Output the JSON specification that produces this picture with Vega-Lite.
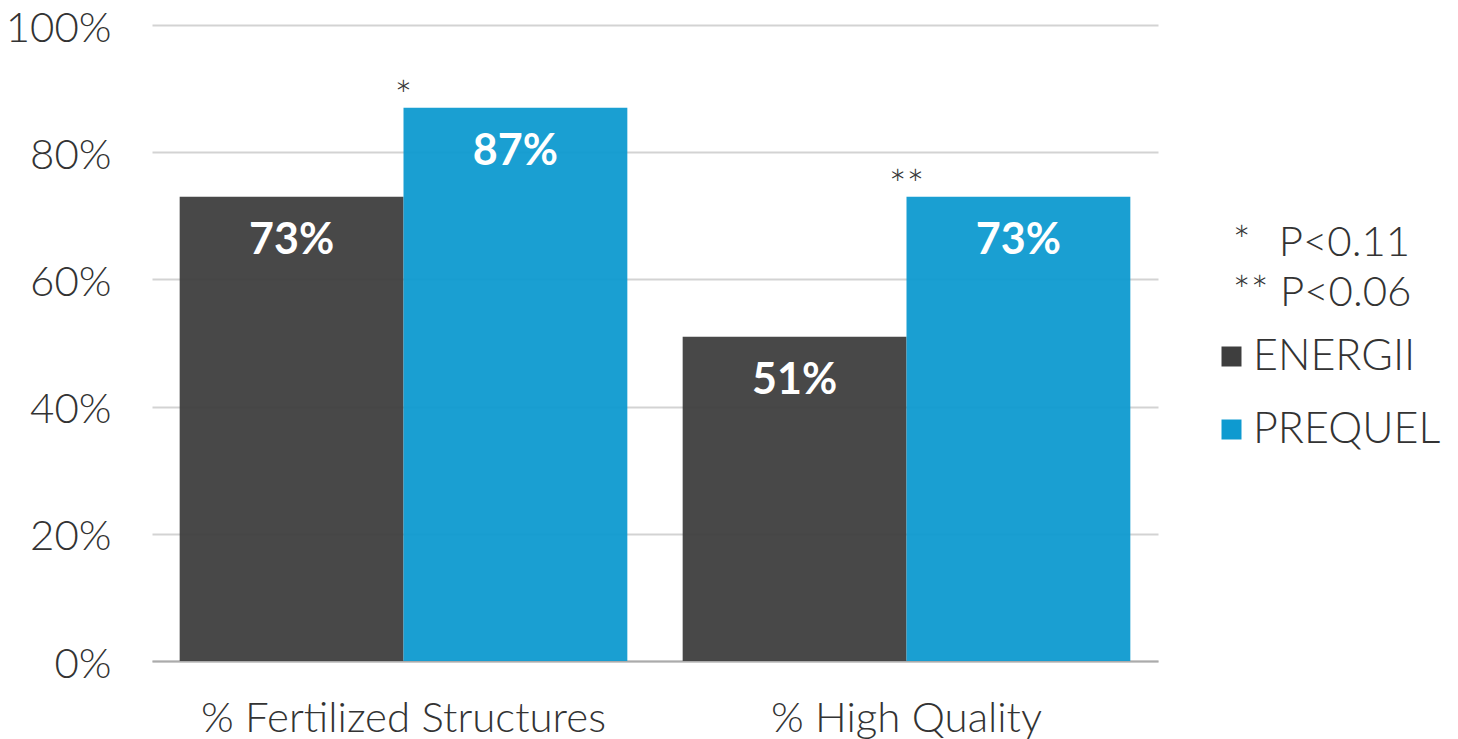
{
  "$schema": "https://vega.github.io/schema/vega-lite/v6.json",
  "width": 1006,
  "height": 636,
  "autosize": {"type": "none"},
  "padding": {"left": 152, "top": 25, "right": 300, "bottom": 78},
  "background": "white",
  "config": {
    "view": {"stroke": null},
    "font": "Lato"
  },
  "data": {
    "values": [
      {"category": "% Fertilized Structures", "series": "ENERGII", "value": 0.73, "sig": ""},
      {"category": "% Fertilized Structures", "series": "PREQUEL", "value": 0.87, "sig": "*"},
      {"category": "% High Quality", "series": "ENERGII", "value": 0.51, "sig": ""},
      {"category": "% High Quality", "series": "PREQUEL", "value": 0.73, "sig": "**"}
    ]
  },
  "encoding": {
    "x": {
      "field": "category",
      "type": "nominal",
      "sort": null,
      "scale": {"paddingInner": 0.11, "paddingOuter": 0.055},
      "axis": {
        "title": null,
        "labelAngle": 0,
        "ticks": false,
        "domainColor": "#ababab",
        "domainWidth": 2,
        "labelFont": "Lato",
        "labelFontWeight": 300,
        "labelFontSize": 42,
        "labelColor": "#333333",
        "labelPadding": 37,
        "labelBaseline": "top",
        "labelLimit": 0
      }
    },
    "y": {
      "field": "value",
      "type": "quantitative",
      "scale": {"domain": [0, 1]},
      "axis": {
        "title": null,
        "format": ".0%",
        "values": [0, 0.2, 0.4, 0.6, 0.8, 1],
        "ticks": false,
        "domain": false,
        "gridColor": "#d3d3d3",
        "gridWidth": 2,
        "labelFont": "Lato",
        "labelFontWeight": 300,
        "labelFontSize": 42,
        "labelColor": "#333333",
        "labelPadding": 41,
        "labelOffset": 3
      }
    }
  },
  "layer": [
    {
      "mark": {"type": "bar", "opacity": 0.95},
      "encoding": {
        "xOffset": {"field": "series", "type": "nominal", "scale": {"paddingInner": 0, "paddingOuter": 0}},
        "color": {
          "field": "series",
          "type": "nominal",
          "scale": {"domain": ["ENERGII", "PREQUEL"], "range": ["#3e3e3e", "#0e9ad0"]},
          "legend": {
            "orient": "none",
            "legendX": 1058,
            "legendY": 198,
            "padding": 0,
            "title": ["\u200b\u00a0\u00a0*\u00a0\u200a\u200a P<0.11", "\u200b\u00a0\u00a0**\u00a0P<0.06"],
            "titleFont": "Lato",
            "titleFontWeight": 300,
            "titleFontSize": 42,
            "titleLineHeight": 50,
            "titleColor": "#333333",
            "titlePadding": 20,
            "titleLimit": 0,
            "symbolType": "square",
            "symbolSize": 400,
            "symbolStrokeWidth": 0,
            "symbolOpacity": 1,
            "labelFont": "Lato",
            "labelFontWeight": 300,
            "labelFontSize": 43,
            "labelColor": "#333333",
            "labelOffset": 0,
            "labelLimit": 0,
            "rowPadding": 29
          }
        }
      }
    },
    {
      "mark": {"type": "text", "color": "white", "fontSize": 43, "fontWeight": "bold", "font": "Lato", "baseline": "middle", "dy": 44},
      "encoding": {
        "xOffset": {"field": "series", "type": "nominal"},
        "text": {"field": "value", "type": "quantitative", "format": ".0%"}
      }
    },
    {
      "mark": {"type": "text", "color": "#333333", "fontSize": 42, "fontWeight": 300, "font": "Lato", "baseline": "bottom", "dy": 12},
      "encoding": {
        "text": {"field": "sig", "type": "nominal"}
      }
    }
  ]
}
